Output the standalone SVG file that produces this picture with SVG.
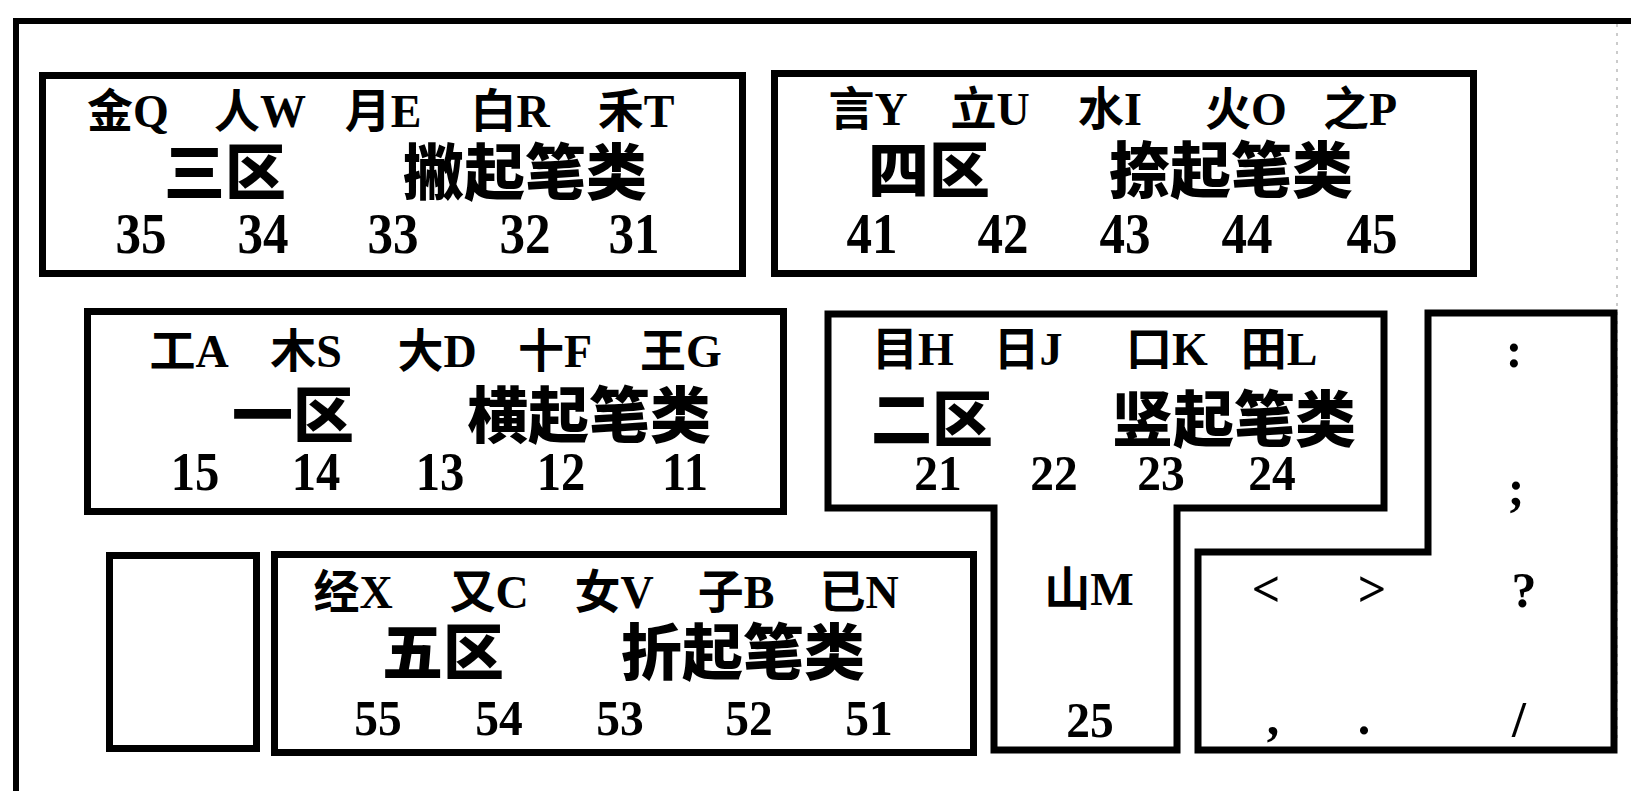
<svg xmlns="http://www.w3.org/2000/svg" width="1631" height="791" viewBox="0 0 1631 791">
<style>
.box{fill:none;stroke:#000;stroke-width:7;stroke-linejoin:miter}
.lbl{font-family:"Liberation Serif","Noto Sans CJK SC",serif;font-weight:bold;font-size:46px;text-anchor:middle;fill:#000}
.big{font-family:"Noto Sans CJK SC",sans-serif;font-weight:900;font-size:61px;text-anchor:middle;fill:#000}
.num{font-family:"Liberation Serif",serif;font-weight:bold;font-size:58px;text-anchor:middle;fill:#000;transform-box:fill-box;transform-origin:center;transform:scaleX(0.88)}
.num3{font-family:"Liberation Serif",serif;font-weight:bold;font-size:54px;text-anchor:middle;fill:#000;transform-box:fill-box;transform-origin:center;transform:scaleX(0.9)}
.num2{font-family:"Liberation Serif",serif;font-weight:bold;font-size:50px;text-anchor:middle;fill:#000;transform-box:fill-box;transform-origin:center;transform:scaleX(0.95)}
.pun{font-family:"Liberation Serif",serif;font-weight:bold;font-size:50px;text-anchor:middle;fill:#000}
</style>
<rect width="1631" height="791" fill="#fff"/>
<g id="frame">
<path d="M16,791 V21 H1631" fill="none" stroke="#000" stroke-width="6"/>
<line x1="1617" y1="24" x2="1617" y2="740" stroke="#bbb" stroke-width="1.5" stroke-dasharray="3 6"/>
</g>
<g id="zone3">
<rect class="box" x="42.5" y="75.5" width="700" height="198"/>
<text class="lbl" x="128" y="127">金Q</text>
<text class="lbl" x="260" y="127">人W</text>
<text class="lbl" x="383" y="127">月E</text>
<text class="lbl" x="510" y="127">白R</text>
<text class="lbl" x="636" y="127">禾T</text>
<text class="big" x="225" y="195">三区</text>
<text class="big" x="525" y="195">撇起笔类</text>
<text class="num" x="141" y="253">35</text>
<text class="num" x="263" y="253">34</text>
<text class="num" x="393" y="253">33</text>
<text class="num" x="525" y="253">32</text>
<text class="num" x="634" y="253">31</text>
</g>
<g id="zone4">
<rect class="box" x="774.5" y="73.5" width="699" height="200"/>
<text class="lbl" x="868" y="125">言Y</text>
<text class="lbl" x="990" y="125">立U</text>
<text class="lbl" x="1110" y="125">水I</text>
<text class="lbl" x="1246" y="125">火O</text>
<text class="lbl" x="1360" y="125">之P</text>
<text class="big" x="929" y="193">四区</text>
<text class="big" x="1231" y="193">捺起笔类</text>
<text class="num" x="872" y="253">41</text>
<text class="num" x="1003" y="253">42</text>
<text class="num" x="1125" y="253">43</text>
<text class="num" x="1247" y="253">44</text>
<text class="num" x="1372" y="253">45</text>
</g>
<g id="zone1">
<rect class="box" x="87.5" y="311.5" width="696" height="200"/>
<text class="lbl" x="189" y="367">工A</text>
<text class="lbl" x="306" y="367">木S</text>
<text class="lbl" x="437" y="367">大D</text>
<text class="lbl" x="555" y="367">十F</text>
<text class="lbl" x="681" y="367">王G</text>
<text class="big" x="293" y="438">一区</text>
<text class="big" x="589" y="438">横起笔类</text>
<text class="num3" x="195" y="490">15</text>
<text class="num3" x="316" y="490">14</text>
<text class="num3" x="440" y="490">13</text>
<text class="num3" x="561" y="490">12</text>
<text class="num3" x="685" y="490">11</text>
</g>
<g id="zone2">
<path class="box" d="M828,314 H1384 V508 H1177 V750 H994 V508 H828 Z"/>
<text class="lbl" x="913" y="365">目H</text>
<text class="lbl" x="1028" y="365">日J</text>
<text class="lbl" x="1167" y="365">口K</text>
<text class="lbl" x="1279" y="365">田L</text>
<text class="big" x="932" y="442">二区</text>
<text class="big" x="1234" y="442">竖起笔类</text>
<text class="num2" x="938" y="490">21</text>
<text class="num2" x="1054" y="490">22</text>
<text class="num2" x="1161" y="490">23</text>
<text class="num2" x="1272" y="490">24</text>
<text class="lbl" x="1089" y="605">山M</text>
<text class="num2" x="1090" y="737">25</text>
</g>
<g id="punct">
<path class="box" d="M1428,313 H1614 V750 H1198 V552 H1428 Z"/>
<text class="pun" x="1514" y="367">:</text>
<text class="pun" x="1516" y="505">;</text>
<text class="pun" x="1266" y="606">&lt;</text>
<text class="pun" x="1372" y="606">&gt;</text>
<text class="pun" x="1524" y="607">?</text>
<text class="pun" x="1273" y="734">,</text>
<text class="pun" x="1364" y="734">.</text>
<text class="pun" x="1519" y="736">/</text>
</g>
<g id="empty">
<rect class="box" x="109.5" y="555.5" width="147" height="193"/>
</g>
<g id="zone5">
<rect class="box" x="274.5" y="554.5" width="699" height="198"/>
<text class="lbl" x="353" y="608">经X</text>
<text class="lbl" x="489" y="608">又C</text>
<text class="lbl" x="614" y="608">女V</text>
<text class="lbl" x="736" y="608">子B</text>
<text class="lbl" x="859" y="608">已N</text>
<text class="big" x="443" y="675">五区</text>
<text class="big" x="743" y="675">折起笔类</text>
<text class="num2" x="378" y="735">55</text>
<text class="num2" x="499" y="735">54</text>
<text class="num2" x="620" y="735">53</text>
<text class="num2" x="749" y="735">52</text>
<text class="num2" x="869" y="735">51</text>
</g>
<g id="connectors"></g>
</svg>
